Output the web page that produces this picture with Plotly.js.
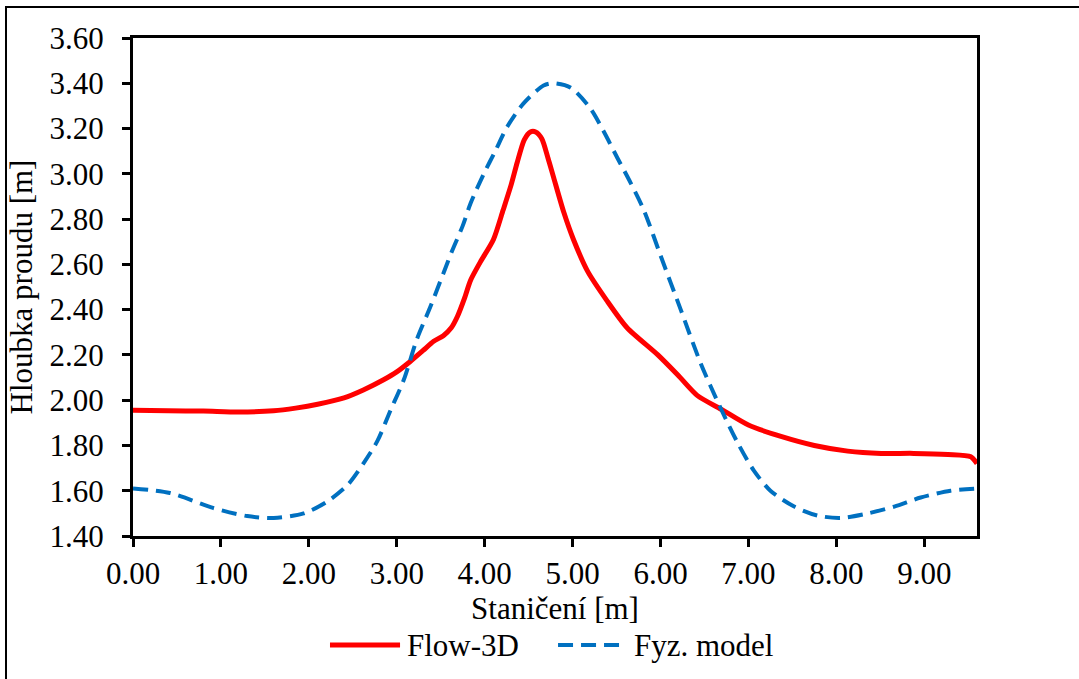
<!DOCTYPE html>
<html>
<head>
<meta charset="utf-8">
<script src="https://cdn.plot.ly/plotly-3.0.1.min.js"></script>
<style>
  html, body { margin: 0; padding: 0; background: #fff; overflow: hidden; }
  #chart { width: 1079px; height: 679px; }
  #frame { position: absolute; left: 5px; top: 6px; width: 1200px; height: 800px;
           border-left: 2px solid #000; border-top: 2px solid #000; pointer-events: none; }
</style>
</head>
<body>
<div id="chart"></div>
<div id="frame"></div>
<script>
// Flow-3D simulation
const flowX = [0, 0.4, 0.8, 1.2, 1.6, 1.85, 2.1, 2.4, 2.62, 2.85, 3.0, 3.15, 3.30, 3.42, 3.53, 3.62, 3.69, 3.77, 3.84, 3.95, 4.10, 4.21, 4.30, 4.37, 4.45, 4.52, 4.58, 4.65, 4.72, 4.78, 4.90, 5.01, 5.17, 5.39, 5.62, 5.97, 6.20, 6.42, 6.69, 7.0, 7.37, 7.75, 8.13, 8.51, 8.88, 9.27, 9.53, 9.6];
const flowY = [1.955, 1.953, 1.952, 1.948, 1.953, 1.965, 1.982, 2.01, 2.045, 2.09, 2.125, 2.17, 2.22, 2.26, 2.285, 2.32, 2.37, 2.45, 2.53, 2.61, 2.71, 2.84, 2.95, 3.05, 3.15, 3.185, 3.185, 3.155, 3.07, 2.99, 2.83, 2.71, 2.57, 2.44, 2.32, 2.20, 2.11, 2.02, 1.96, 1.89, 1.84, 1.80, 1.775, 1.765, 1.765, 1.76, 1.75, 1.72];
// Physical model
const modelX = [0, 0.42, 0.91, 1.3, 1.6, 1.94, 2.2, 2.44, 2.62, 2.78, 2.93, 3.08, 3.23, 3.38, 3.53, 3.63, 3.75, 3.84, 3.99, 4.12, 4.26, 4.44, 4.67, 4.78, 4.98, 5.20, 5.35, 5.51, 5.66, 5.81, 6.00, 6.23, 6.46, 6.69, 6.88, 7.06, 7.25, 7.52, 7.79, 8.05, 8.36, 8.66, 8.96, 9.30, 9.6];
const modelY = [1.61, 1.59, 1.524, 1.488, 1.48, 1.50, 1.55, 1.625, 1.72, 1.82, 1.956, 2.09, 2.27, 2.41, 2.56, 2.66, 2.77, 2.87, 3.00, 3.10, 3.21, 3.31, 3.39, 3.40, 3.38, 3.29, 3.19, 3.07, 2.96, 2.84, 2.64, 2.40, 2.16, 1.96, 1.81, 1.69, 1.60, 1.53, 1.49, 1.48, 1.50, 1.53, 1.57, 1.60, 1.61];

const seriesNames = ["Flow-3D", "Fyz. model"];
const seriesColors = ["#FF0000", "#0070C0"];
const xTitle = "Staničení [m]";
const yTitle = "Hloubka proudu [m]";

const FONT = "Liberation Serif, Times New Roman, serif";
const FS = 31;

const traces = [
  { x: flowX, y: flowY, name: seriesNames[0], type: 'scatter', mode: 'lines',
    line: { color: seriesColors[0], width: 5, shape: 'spline', smoothing: 0.7 } },
  { x: modelX, y: modelY, name: seriesNames[1], type: 'scatter', mode: 'lines',
    line: { color: seriesColors[1], width: 4, dash: '15px,8px', shape: 'spline', smoothing: 0.8 } }
];

const axisCommon = {
  showgrid: false, zeroline: false,
  showline: true, linecolor: '#000', linewidth: 3, mirror: true,
  ticks: 'outside', ticklen: 8, tickwidth: 3, tickcolor: '#000',
  tickfont: { family: FONT, size: FS, color: '#000' },
  tickformat: '.2f'
};

// legend drawn below the plot (paper coordinates)
const legY = -0.219;
const legendShapes = [
  { type: 'line', xref: 'paper', yref: 'paper', x0: 0.2334, x1: 0.3164, y0: legY, y1: legY,
    line: { color: seriesColors[0], width: 5 } },
  { type: 'line', xref: 'paper', yref: 'paper', x0: 0.5036, x1: 0.5829, y0: legY, y1: legY,
    line: { color: seriesColors[1], width: 4, dash: '15px,8px' } }
];
const legendTexts = [
  { xref: 'paper', yref: 'paper', x: 0.3225, y: legY, xanchor: 'left', yanchor: 'middle',
    text: seriesNames[0], showarrow: false, font: { family: FONT, size: FS, color: '#000' } },
  { xref: 'paper', yref: 'paper', x: 0.5914, y: legY, xanchor: 'left', yanchor: 'middle',
    text: seriesNames[1], showarrow: false, font: { family: FONT, size: FS, color: '#000' } }
];

const layout = {
  width: 1079, height: 679,
  margin: { l: 133, r: 102, t: 38, b: 143 },
  paper_bgcolor: '#fff', plot_bgcolor: '#fff',
  font: { family: FONT, color: '#000', size: FS },
  xaxis: Object.assign({}, axisCommon, {
    range: [0, 9.6], dtick: 1, tick0: 0,
    title: { text: xTitle, font: { family: FONT, size: FS }, standoff: 6 }
  }),
  yaxis: Object.assign({}, axisCommon, {
    range: [1.4, 3.6], dtick: 0.2, tick0: 1.4,
    ticklabelstandoff: 12,
    title: { text: yTitle, font: { family: FONT, size: FS }, standoff: 8 }
  }),
  showlegend: false,
  shapes: legendShapes,
  annotations: legendTexts
};

Plotly.newPlot('chart', traces, layout, { displayModeBar: false, staticPlot: true });
</script>
</body>
</html>
